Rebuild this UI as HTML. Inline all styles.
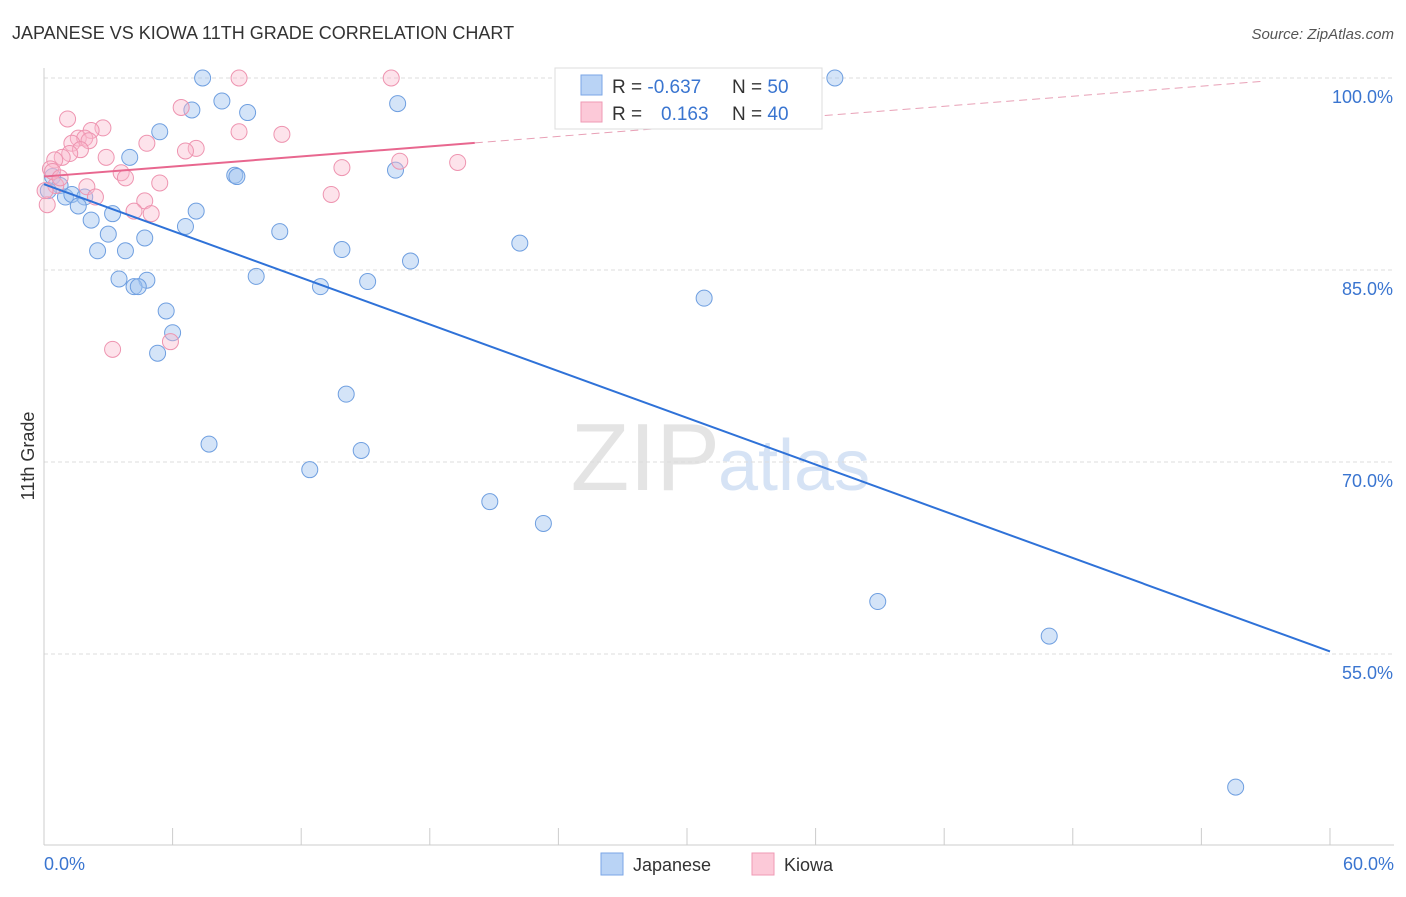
<!DOCTYPE html>
<html><head><meta charset="utf-8"><style>
body{margin:0;background:#fff;font-family:"Liberation Sans",sans-serif;}
svg text{font-family:"Liberation Sans",sans-serif;}
</style></head><body>
<svg id="chart" width="1406" height="892" xmlns="http://www.w3.org/2000/svg">
<text x="12" y="39" font-size="18" fill="#333">JAPANESE VS KIOWA 11TH GRADE CORRELATION CHART</text>
<text x="1394" y="39" font-size="15" fill="#555" text-anchor="end" font-style="italic">Source: ZipAtlas.com</text>
<text x="720" y="490" font-size="96" fill="#e4e4e4" text-anchor="end" font-family="Liberation Serif">ZIP</text>
<text x="718" y="490" font-size="72" fill="#d6e3f5">atlas</text>
<g id="grid"></g>
<g id="marks"></g>
<text transform="translate(34,456) rotate(-90)" font-size="18" fill="#333" text-anchor="middle">11th Grade</text>
<text x="44" y="870" font-size="18" fill="#3a75d0">0.0%</text>
<text x="1394" y="870" font-size="18" fill="#3a75d0" text-anchor="end">60.0%</text>
<g>
<rect x="555" y="68" width="267" height="61" fill="#fff" stroke="#ddd"/>
<rect x="581" y="75" width="21" height="20" fill="#b9d3f5" stroke="#7aa6e6"/>
<rect x="581" y="102" width="21" height="20" fill="#fcc9d8" stroke="#ef9ab4"/>
<text x="612" y="93" font-size="19" fill="#333">R = <tspan fill="#3a75d0">-0.637</tspan></text>
<text x="732" y="93" font-size="19" fill="#333">N = <tspan fill="#3a75d0">50</tspan></text>
<text x="612" y="120" font-size="19" fill="#333">R = <tspan fill="#3a75d0" x="661">0.163</tspan></text>
<text x="732" y="120" font-size="19" fill="#333">N = <tspan fill="#3a75d0">40</tspan></text>
</g>
<g>
<rect x="601" y="853" width="22" height="22" fill="#b9d3f5" stroke="#7aa6e6"/>
<text x="633" y="871" font-size="18" fill="#333">Japanese</text>
<rect x="752" y="853" width="22" height="22" fill="#fcc9d8" stroke="#ef9ab4"/>
<text x="784" y="871" font-size="18" fill="#333">Kiowa</text>
</g>
</svg>
<script>
const yTicks=[100,85,70,55];
const yTickLabels=["100.0%","85.0%","70.0%","55.0%"];
const xTicks=[0,6,12,18,24,30,36,42,48,54,60];
const japX=[7.4,8.3,6.9,9.5,16.5,5.4,36.9,4.0,8.9,9.0,16.4,0.4,0.75,0.2,1.0,1.3,1.9,1.6,3.2,7.1,2.2,6.6,3.0,4.7,11.0,22.2,2.5,3.8,13.9,17.1,3.5,4.8,9.9,15.1,4.2,4.4,12.9,30.8,5.7,6.0,5.3,14.1,7.7,14.8,12.4,20.8,23.3,38.9,46.9,55.6];
const japY=[100,98.2,97.5,97.3,98.0,95.8,100,93.8,92.4,92.3,92.8,92.3,91.6,91.2,90.7,90.9,90.7,90.0,89.4,89.6,88.9,88.4,87.8,87.5,88.0,87.1,86.5,86.5,86.6,85.7,84.3,84.2,84.5,84.1,83.7,83.7,83.7,82.8,81.8,80.1,78.5,75.3,71.4,70.9,69.4,66.9,65.2,59.1,56.4,44.6];
const kioX=[9.1,16.2,6.4,1.1,2.75,2.2,9.1,11.1,1.6,1.9,1.3,4.8,2.1,7.1,6.6,1.7,1.2,0.85,0.5,2.9,16.6,19.3,13.9,0.3,3.6,3.8,5.4,2.0,13.4,2.4,0.55,4.7,0.15,4.2,5.0,3.2,5.9,0.4,0.75,0.05];
const kioY=[100,100,97.7,96.8,96.1,95.9,95.8,95.6,95.3,95.3,94.9,94.9,95.1,94.5,94.3,94.4,94.1,93.8,93.6,93.8,93.5,93.4,93.0,92.9,92.6,92.2,91.8,91.5,90.9,90.7,91.6,90.4,90.1,89.6,89.4,78.8,79.4,92.7,92.2,91.2];
const japTrend=[91.7,55.2];
const kioTrend=[92.3,100.15];
const kioSolidEnd=20.1, kioDashEnd=56.8;
const X=v=>44+v*21.433, Y=v=>78+(100-v)*12.8;
const NS="http://www.w3.org/2000/svg";
const grid=document.getElementById('grid'), marks=document.getElementById('marks');
function mk(tag,attrs,parent){const e=document.createElementNS(NS,tag);for(const k in attrs)e.setAttribute(k,attrs[k]);parent.appendChild(e);return e;}
yTicks.forEach((t,i)=>{
  const l=mk('line',{x1:44,x2:1394,y1:Y(t),y2:Y(t),stroke:'#ddd','stroke-dasharray':'4,3'},grid);
  
  
  const tx=mk('text',{x:1393,y:Y(t)+25,'font-size':18,fill:'#3a75d0','text-anchor':'end'},grid);
  tx.textContent=yTickLabels[i];
  
  
});
const ax=mk('line',{x1:44,x2:44,y1:68,y2:845,stroke:'#ccc'},grid);


const bx=mk('line',{x1:44,x2:1394,y1:845,y2:845,stroke:'#ccc'},grid);


xTicks.forEach(t=>{
  const l=mk('line',{x1:X(t),x2:X(t),y1:828,y2:845,stroke:'#ccc'},grid);
  
  
});
japX.forEach((v,i)=>{
  const c=mk('circle',{cx:X(v),cy:Y(japY[i]),r:8,fill:'rgba(160,195,240,0.45)',stroke:'#6f9fe0','stroke-width':1},marks);
  
  
});
kioX.forEach((v,i)=>{
  const c=mk('circle',{cx:X(v),cy:Y(kioY[i]),r:8,fill:'rgba(250,185,205,0.4)',stroke:'#ee94b0','stroke-width':1},marks);
  
  
});
const jl=mk('line',{x1:X(0),y1:Y(japTrend[0]),x2:X(60),y2:Y(japTrend[1]),stroke:'#2f72d8','stroke-width':2},marks);


const kf=x=>kioTrend[0]+(kioTrend[1]-kioTrend[0])*x/60;
const ks=mk('line',{x1:X(0),y1:Y(kf(0)),x2:X(kioSolidEnd),y2:Y(kf(kioSolidEnd)),stroke:'#e8678f','stroke-width':2},marks);


const kd=mk('line',{x1:X(kioSolidEnd),y1:Y(kf(kioSolidEnd)),x2:X(kioDashEnd),y2:Y(kf(kioDashEnd)),stroke:'#e8a0b6','stroke-width':1,'stroke-dasharray':'8,5'},marks);


</script>
</body></html>
